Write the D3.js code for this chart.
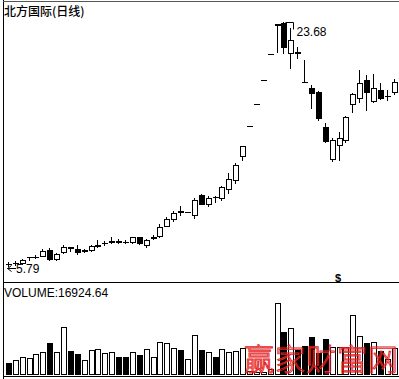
<!DOCTYPE html>
<html><head><meta charset="utf-8">
<script src="https://cdn.jsdelivr.net/npm/d3@7"></script>
<style>html,body{margin:0;padding:0;background:#fff;}svg{display:block;}</style>
</head><body>
<script>
const days = d3.range(1, 58);
const open  = [5.95,6.00,5.98,6.44,6.45,6.55,6.95,6.30,6.80,7.15,7.00,6.90,6.95,7.25,7.45,7.55,7.60,7.58,7.55,7.90,7.35,7.82,8.00,8.75,9.20,9.85,9.75,9.50,11.00,10.30,10.85,10.75,11.44,12.10,13.86,16.05,17.66,19.42,21.36,23.45,23.60,21.41,21.50,19.28,18.84,18.55,15.98,13.65,14.66,15.03,17.67,18.11,19.43,17.89,18.69,18.25,18.55];
const close = [5.93,6.03,6.25,6.45,6.48,6.90,6.30,6.70,7.20,7.12,6.85,6.95,7.25,7.35,7.48,7.65,7.55,7.55,7.90,7.45,7.70,7.95,8.65,9.25,9.70,9.72,9.76,10.60,10.35,10.80,10.82,11.55,12.17,13.20,14.59,16.05,17.66,19.42,21.36,23.50,21.85,22.36,21.40,19.26,18.47,16.62,14.95,15.05,15.18,16.72,18.40,19.21,18.55,18.84,18.11,18.26,19.28];
const high  = [6.05,6.12,6.30,6.45,6.60,7.00,7.10,6.75,7.30,7.17,7.30,7.05,7.30,7.70,7.60,7.90,7.75,7.70,7.95,7.95,7.75,8.05,8.85,9.35,9.80,10.20,9.78,10.75,11.05,10.95,10.90,11.66,12.61,13.34,14.62,16.05,17.66,19.42,21.36,23.50,23.68,23.24,21.85,20.90,19.06,18.60,16.28,15.20,15.62,16.80,18.45,20.16,19.80,19.90,19.21,18.69,19.50];
const low   = [5.79,5.88,5.92,6.25,6.35,6.50,6.25,6.25,6.75,6.90,6.70,6.80,6.90,7.20,7.35,7.45,7.50,7.45,7.50,7.40,7.20,7.75,7.95,8.70,9.10,9.55,9.72,9.30,10.30,10.20,10.50,10.60,11.14,11.90,13.56,16.05,17.66,19.42,21.36,21.50,21.40,20.31,21.04,19.26,17.38,16.50,14.88,13.50,13.56,14.88,17.08,17.82,17.23,17.80,18.00,17.96,18.40];
const volume = [6900,9000,10700,10500,12900,14000,20100,14000,30400,14800,13100,9000,15400,15900,13700,14400,10700,10700,14400,12200,15900,11100,20800,19700,16500,15400,9700,25100,15400,14400,10700,15900,14400,14800,16500,1900,1100,1500,3000,45500,27200,29400,15400,18000,24000,13700,22300,17600,17600,17600,38000,24500,20100,20800,15000,9500,16925];
const titleText = "北方国际(日线)";
const volumeLabel = "VOLUME:16924.64";
const lowLabel = "5.79";
const highLabel = "23.68";
const watermark = "赢家财富网";

const W = 399, H = 379;
const svg = d3.select("body").append("svg").attr("width", W).attr("height", H);

const x = d3.scaleBand().domain(days).range([3.54, 398]).padding(0.25);
const y = d3.scaleLinear().domain([5.79, 23.68]).range([266, 22]);
const yv = d3.scaleLinear().domain([0, 45500]).range([374, 303.3]);

const cx = d => Math.round(x(d) + x.bandwidth() / 2) + 0.5;

// frame
const frame = svg.append("g").attr("stroke", "#000").attr("stroke-width", 1).attr("shape-rendering", "crispEdges");
frame.append("line").attr("x1", 3.5).attr("x2", 3.5).attr("y1", 0).attr("y2", H);
frame.append("line").attr("x1", 3).attr("x2", W).attr("y1", 1.5).attr("y2", 1.5).attr("stroke", "#555");
frame.append("line").attr("x1", 3).attr("x2", W).attr("y1", 282.5).attr("y2", 282.5);
frame.append("line").attr("x1", 3).attr("x2", W).attr("y1", 376.5).attr("y2", 376.5);

const data = days.map((d, i) => ({d, o: open[i], c: close[i], h: high[i], l: low[i], v: volume[i]}));

// candles
const cg = svg.append("g").attr("shape-rendering", "crispEdges");
data.forEach(r => {
  const c = cx(r.d);
  const up = r.c >= r.o;
  cg.append("line").attr("x1", c).attr("x2", c)
    .attr("y1", Math.round(y(r.h))).attr("y2", Math.round(y(r.l)) + 1)
    .attr("stroke", "#000");
  const top = Math.round(y(Math.max(r.o, r.c)));
  const bot = Math.round(y(Math.min(r.o, r.c)));
  if (bot - top < 2) {
    cg.append("line").attr("x1", c - 3).attr("x2", c + 3)
      .attr("y1", top + 0.5).attr("y2", top + 0.5).attr("stroke", "#000").attr("stroke-width", Math.max(1, bot - top + 1));
  } else if (up) {
    cg.append("rect").attr("x", c - 2.5).attr("y", top + 0.5).attr("width", 5).attr("height", bot - top)
      .attr("fill", "#fff").attr("stroke", "#000");
  } else {
    cg.append("rect").attr("x", c - 3).attr("y", top).attr("width", 6).attr("height", bot - top + 1)
      .attr("fill", "#000");
  }
});

// volume bars
const vg = svg.append("g").attr("shape-rendering", "crispEdges");
data.forEach(r => {
  const c = cx(r.d);
  const up = r.c >= r.o;
  const top = Math.round(yv(r.v));
  const base = Math.round(yv(0));
  if (up) {
    vg.append("rect").attr("x", c - 2.5).attr("y", top + 0.5).attr("width", 5).attr("height", Math.max(1, base - top))
      .attr("fill", "#fff").attr("stroke", "#000");
  } else {
    vg.append("rect").attr("x", c - 3).attr("y", top).attr("width", 6).attr("height", base - top + 1).attr("fill", "#000");
  }
});

// labels
svg.append("text").attr("x", 4).attr("y", 16).text(titleText)
  .attr("font-family", "'Noto Sans CJK SC', sans-serif").attr("font-size", 12).attr("font-weight", 500).attr("fill", "#000");
svg.append("text").attr("x", 4).attr("y", 297).text(volumeLabel)
  .attr("font-family", "'Liberation Sans', Arial, sans-serif").attr("font-size", 12).attr("fill", "#000");

// low annotation
const lowIdx = low.indexOf(d3.min(low));
const lx = cx(days[lowIdx]);
svg.append("line").attr("x1", lx - 1).attr("x2", 16).attr("y1", 268.5).attr("y2", 268.5).attr("stroke", "#000");
svg.append("path").attr("d", `M${lx - 1},268.5 l4,-3 M${lx - 1},268.5 l4,3`).attr("stroke", "#000").attr("fill", "none");
svg.append("text").attr("x", 16).attr("y", 273).text(lowLabel)
  .attr("font-family", "'Liberation Sans', Arial, sans-serif").attr("font-size", 12).attr("fill", "#000");

// high annotation
const hiIdx = high.indexOf(d3.max(high));
const hx = cx(days[hiIdx]);
const hy = Math.round(y(d3.max(high))) + 0.5;
svg.append("path").attr("d", `M${hx + 2},${hy} H${hx + 10} V${hy + 7}`).attr("stroke", "#000").attr("fill", "none");
svg.append("text").attr("x", hx + 13).attr("y", 36).text(highLabel)
  .attr("font-family", "'Liberation Sans', Arial, sans-serif").attr("font-size", 12).attr("fill", "#000");

// $ marker
svg.append("text").attr("x", 338).attr("y", 282).attr("text-anchor", "middle").text("$")
  .attr("font-family", "'Liberation Sans', Arial, sans-serif").attr("font-size", 11).attr("font-weight", "bold").attr("fill", "#000");

// watermark
svg.append("text").attr("x", 244).attr("y", 370).text(watermark)
  .attr("font-family", "'Noto Sans CJK SC', sans-serif").attr("font-size", 30).attr("font-weight", 300)
  .attr("letter-spacing", 1).attr("fill", "none").attr("stroke", "#e4231c").attr("stroke-width", 0.9);
</script>
</body></html>
